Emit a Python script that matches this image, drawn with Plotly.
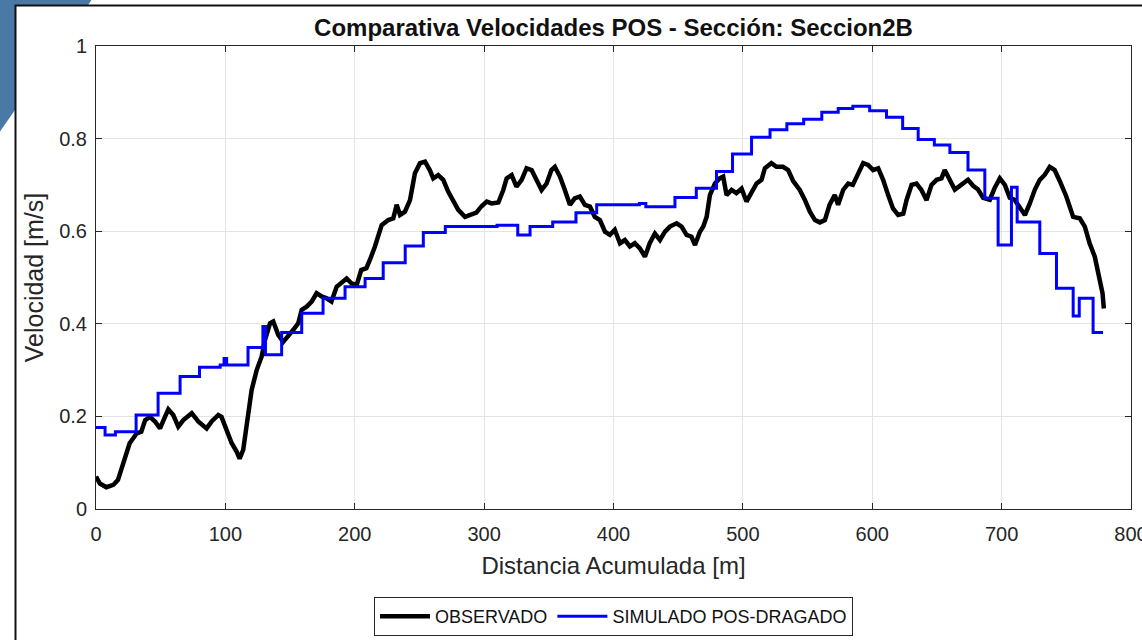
import plotly.graph_objects as go

# ---------------- data ----------------
dist_obs = [0, 3, 8, 13.4, 17, 21, 26, 31.4, 35, 38, 41.7, 45.6, 49.5, 53.3, 55.9, 59.7, 63.6, 67.5,
            74, 79, 85.5, 89.4, 94.5, 97, 101, 104.9, 108.7, 111, 113.8, 116.5, 120.3, 124.2, 128,
            130.6, 134.5, 137, 140.9, 144.7, 148.6, 152.5, 156.3, 159, 162.8, 166.7, 170.5, 174.4,
            178.3, 182, 186, 190, 193.7, 197.6, 201.5, 205, 209, 212, 215.6, 220.8, 225.9, 229.8,
            232.4, 235, 238.8, 242.7, 246.5, 250.4, 254.3, 258, 260.7, 264.5, 268.4, 272.3, 276,
            280, 285.2, 289, 294, 298, 302, 305.8, 311, 314.8, 317.4, 321.3, 325, 329, 332.8,
            336.7, 340.6, 344.4, 348.3, 352, 354.7, 358.6, 362.4, 366.3, 370, 374, 377.9, 381.8,
            385.6, 389.5, 393.4, 397.2, 401, 405, 408.8, 412.7, 416.5, 420.4, 424.3, 428, 432,
            435.9, 439.8, 443.6, 448.8, 452.6, 456.5, 460.3, 463, 466.8, 469.4, 472, 474.5, 478.4,
            482, 484.8, 487.4, 491.3, 495, 499, 502.8, 506.7, 510.6, 514.4, 517, 522, 526, 531,
            535, 538.9, 544, 548, 551.8, 555.7, 559.5, 563.4, 567, 571, 573.6, 577.5, 581.4, 585,
            589, 593, 596.8, 600.7, 604.6, 608.4, 612.3, 616, 620, 624, 626.5, 630.4, 634.2, 638,
            642, 645.8, 649.7, 653.5, 656, 660, 663.8, 667.7, 671.6, 674, 678, 681.8, 685.7,
            690.9, 694.7, 698.6, 702.5, 706.3, 710, 714, 718, 721.8, 725.7, 729.5, 733.4, 737.2,
            741, 745, 750, 755.3, 760.4, 764.3, 768, 772, 775.4, 778, 779]
vel_obs = [0.070, 0.055, 0.047, 0.052, 0.063, 0.099, 0.142, 0.163, 0.167, 0.192, 0.199, 0.189, 0.174,
           0.199, 0.215, 0.203, 0.178, 0.192, 0.207, 0.189, 0.174, 0.189, 0.203, 0.199, 0.171,
           0.142, 0.124, 0.109, 0.128, 0.178, 0.257, 0.300, 0.329, 0.365, 0.401, 0.405, 0.376,
           0.361, 0.376, 0.387, 0.401, 0.430, 0.437, 0.448, 0.466, 0.459, 0.455, 0.448, 0.480,
           0.491, 0.498, 0.487, 0.484, 0.516, 0.520, 0.540, 0.567, 0.613, 0.624, 0.628, 0.657,
           0.635, 0.642, 0.667, 0.725, 0.747, 0.750, 0.732, 0.714, 0.721, 0.711, 0.685, 0.664,
           0.646, 0.631, 0.635, 0.640, 0.654, 0.664, 0.660, 0.662, 0.689, 0.714, 0.721, 0.696,
           0.711, 0.736, 0.732, 0.708, 0.689, 0.703, 0.732, 0.739, 0.718, 0.689, 0.657, 0.671,
           0.675, 0.657, 0.653, 0.631, 0.624, 0.599, 0.592, 0.603, 0.574, 0.581, 0.567, 0.574,
           0.563, 0.545, 0.574, 0.595, 0.581, 0.599, 0.610, 0.617, 0.610, 0.592, 0.588, 0.570,
           0.599, 0.610, 0.631, 0.678, 0.703, 0.714, 0.718, 0.678, 0.689, 0.682, 0.692, 0.664,
           0.685, 0.703, 0.711, 0.736, 0.747, 0.739, 0.739, 0.732, 0.708, 0.689, 0.667, 0.642,
           0.624, 0.619, 0.624, 0.657, 0.678, 0.657, 0.689, 0.703, 0.700, 0.721, 0.747, 0.743,
           0.732, 0.736, 0.711, 0.678, 0.649, 0.635, 0.638, 0.667, 0.700, 0.703, 0.689, 0.667,
           0.700, 0.711, 0.714, 0.732, 0.711, 0.690, 0.698, 0.705, 0.711, 0.698, 0.690, 0.672,
           0.668, 0.694, 0.714, 0.700, 0.672, 0.668, 0.653, 0.635, 0.660, 0.690, 0.711, 0.722,
           0.739, 0.732, 0.708, 0.675, 0.631, 0.628, 0.610, 0.574, 0.545, 0.502, 0.466, 0.433]

dist_sim = [0, 7, 15, 31, 48, 65, 80, 96, 99, 101, 117.5, 129, 131, 143.5, 159, 175.5, 192.5, 208,
            222, 239, 253, 270, 310, 326, 335.5, 353, 371, 387, 420, 425, 447.5, 464, 479.6, 492,
            506.7, 521, 534, 547, 561, 573.7, 585, 598, 611, 623.5, 635.5, 648, 660, 674, 687,
            697.3, 707.6, 712, 729.5, 742.4, 755.3, 760, 770.7, 778.4]
vel_sim = [0.176, 0.160, 0.167, 0.203, 0.250, 0.286, 0.306, 0.311, 0.325, 0.311, 0.349, 0.394, 0.333,
           0.381, 0.423, 0.455, 0.480, 0.498, 0.532, 0.568, 0.597, 0.610, 0.613, 0.592, 0.610,
           0.620, 0.640, 0.657, 0.660, 0.653, 0.673, 0.693, 0.729, 0.767, 0.803, 0.819, 0.832,
           0.842, 0.857, 0.865, 0.870, 0.860, 0.846, 0.822, 0.798, 0.786, 0.770, 0.732, 0.671,
           0.570, 0.695, 0.620, 0.552, 0.477, 0.417, 0.455, 0.381, 0.381]

x_ticks = [0, 100, 200, 300, 400, 500, 600, 700, 800]
y_ticks = [0, 0.2, 0.4, 0.6, 0.8, 1]
y_tick_text = ["0", "0.2", "0.4", "0.6", "0.8", "1"]

title_text = "Comparativa Velocidades POS - Sección: Seccion2B"
x_title = "Distancia Acumulada [m]"
y_title = "Velocidad [m/s]"
names = ["OBSERVADO", "SIMULADO POS-DRAGADO"]

# ---------------- layout geometry (pixels) ----------------
W, H = 1142, 640
PL, PR, PT, PB = 96, 1131, 46, 509


def px2x(px):
    return (px - PL) / (PR - PL)


def py2y(py):
    return (PB - py) / (PB - PT)


AX = "#262626"
FONT = "Arial, Liberation Sans, Helvetica, sans-serif"

fig = go.Figure()
fig.add_trace(go.Scatter(x=dist_obs, y=vel_obs, mode="lines", name=names[0],
                         line=dict(color="black", width=4.5)))
fig.add_trace(go.Scatter(x=dist_sim, y=vel_sim, mode="lines", name=names[1],
                         line=dict(color="#0000ff", width=3, shape="hv")))

tri = "M {} {} L {} {} L {} {} Z".format(px2x(0), py2y(0), px2x(91.5), py2y(0), px2x(0), py2y(131.6))
shapes = [
    dict(type="path", path=tri, xref="paper", yref="paper", fillcolor="#4a79a6",
         line=dict(width=0), layer="below"),
    dict(type="rect", xref="paper", yref="paper", x0=px2x(15.5), x1=px2x(1160), y0=py2y(5.5), y1=py2y(660),
         fillcolor="white", line=dict(color="#111111", width=2), layer="below"),
]

fig.update_layout(
    width=W, height=H,
    margin=dict(l=PL, r=W - PR, t=PT, b=H - PB, pad=0, autoexpand=False),
    paper_bgcolor="white", plot_bgcolor="white",
    font=dict(family=FONT, color=AX),
    shapes=shapes,
    title=dict(text="<b>" + title_text + "</b>", x=0.5, xref="paper", xanchor="center",
               y=1 - 28 / H, yref="container", yanchor="middle",
               font=dict(family=FONT, size=24, color="#111111")),
    showlegend=True,
    legend=dict(orientation="h", x=0.5, xanchor="center", y=py2y(597), yanchor="top",
                bordercolor=AX, borderwidth=1, bgcolor="white", itemwidth=50,
                font=dict(family=FONT, size=18, color="#111111")),
)
fig.update_xaxes(range=[0, 800], tickvals=x_ticks, ticks="inside", ticklen=6, tickcolor=AX,
                 showline=True, linecolor=AX, linewidth=1, mirror="ticks",
                 showgrid=True, gridcolor="#e4e4e4", gridwidth=1, zeroline=False,
                 tickfont=dict(size=20, color=AX), ticklabelstandoff=7, automargin=False,
                 ticklabeloverflow="allow",
                 title=dict(text=x_title, font=dict(size=24, color=AX), standoff=13))
fig.update_yaxes(range=[0, 1], tickvals=y_ticks, ticktext=y_tick_text, ticks="inside", ticklen=6,
                 tickcolor=AX, showline=True, linecolor=AX, linewidth=1, mirror="ticks",
                 showgrid=True, gridcolor="#e4e4e4", gridwidth=1, zeroline=False,
                 tickfont=dict(size=20, color=AX), ticklabelstandoff=4, automargin=False,
                 ticklabeloverflow="allow",
                 title=dict(text=y_title, font=dict(size=25, color=AX), standoff=8))

fig.write_html("out.html", config={"displayModeBar": False},
               post_script="document.body.style.margin='0';")
